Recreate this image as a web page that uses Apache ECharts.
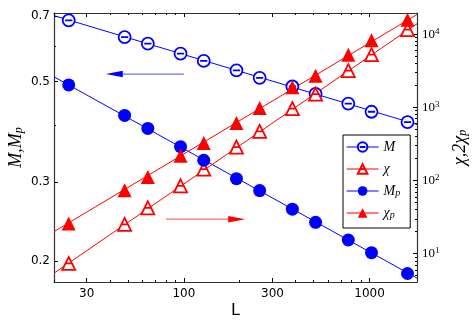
<!DOCTYPE html>
<html>
<head>
<meta charset="utf-8">
<script src="https://cdn.jsdelivr.net/npm/echarts@6/dist/echarts.min.js"></script>
<style>
  html, body { margin: 0; padding: 0; background: #fff; }
  #chart { width: 474px; height: 322px; }
</style>
</head>
<body>
<div id="chart"></div>
<script>
// system sizes
const L = [24, 48, 64, 96, 128, 192, 256, 384, 512, 768, 1024, 1600];
// left axis
const M  = [0.684, 0.628, 0.607, 0.577, 0.556, 0.530, 0.510, 0.488, 0.470, 0.447, 0.429, 0.407];
const Mp = [0.492, 0.421, 0.394, 0.359, 0.335, 0.305, 0.287, 0.261, 0.244, 0.223, 0.209, 0.188];
// right axis (chi and 2*chi_p)
const chi  = [7.35, 25.1, 42.3, 84.6, 143, 286, 470, 963, 1520, 3170, 5250, 11530];
const chip = [25.9, 73.9, 112, 218, 325, 610, 978, 1878, 2705, 5250, 8260, 15780];

// fitted power-law lines, read at both ends of the L range
const fitL   = [20, 1800];
const fitM   = [0.7006, 0.402];
const fitMp  = [0.5127, 0.1836];
const fitChi = [5.41, 13920];
const fitChip = [20.0, 18600];

// arrows (left-axis coordinates)
const arrowBlueL = [100, 38];
const arrowBlueY = 0.52;
const arrowRedL = [80, 214];
const arrowRedY = 0.248;

// ticks
const xMajor = [30, 100, 300, 1000];
const xMinor = [20, 40, 50, 60, 70, 80, 90, 200, 400, 500, 600, 700, 800, 900];
const yLeftMajor = [0.2, 0.3, 0.5, 0.7];
const yLeftMinor = [0.4, 0.6];
const yRightMajor = [10, 100, 1000, 10000];
const yRightMinor = [5, 6, 7, 8, 9, 20, 30, 40, 50, 60, 70, 80, 90,
  200, 300, 400, 500, 600, 700, 800, 900, 2000, 3000, 4000, 5000, 6000, 7000, 8000, 9000];

const BLUE = '#0000ff';
const RED = '#ff0000';
const SPINE = '#333';
const serif = 'Liberation Serif';

const openCircle = 'path://M10,0A10,10,0,1,1,-10,0A10,10,0,1,1,10,0ZM-6,0L6,0';
const openTri = 'path://M0,-10L10,10L-10,10ZM-5,0L5,0';

const pts = (xs, ys) => xs.map((x, i) => [x, ys[i]]);

const xAx = (pos, ticks, len, extra) => Object.assign({
  type: 'log', logBase: 10, min: 20, max: 1800, position: pos,
  axisLine: { show: true, lineStyle: { color: SPINE, width: 1.2 } },
  axisTick: { show: true, inside: true, length: len, customValues: ticks, lineStyle: { color: '#000' } },
  axisLabel: { show: false },
  splitLine: { show: false }
}, extra || {});

const yAx = (pos, min, max, ticks, len, extra) => Object.assign({
  type: 'log', logBase: 10, min: min, max: max, position: pos,
  axisLine: { show: true, lineStyle: { color: SPINE, width: 1.2 } },
  axisTick: { show: true, inside: true, length: len, customValues: ticks, lineStyle: { color: '#000' } },
  axisLabel: { show: false },
  splitLine: { show: false }
}, extra || {});

const subRich = {
  i: { fontFamily: serif, fontStyle: 'italic', fontSize: 18, color: '#000' },
  s: { fontFamily: serif, fontStyle: 'italic', fontSize: 12, color: '#000', verticalAlign: 'bottom', padding: [6, 0, 0, 0] }
};

const option = {
  animation: false,
  grid: { left: 54, right: 57, top: 13, bottom: 40, containLabel: false, outerBoundsMode: 'none' },
  xAxis: [
    xAx('bottom', xMajor, 4, {
      axisLabel: { show: true, customValues: xMajor, margin: 6, color: '#000',
        fontFamily: 'DejaVu Sans', fontSize: 12, formatter: v => String(Math.round(v)) },
      name: 'L', nameLocation: 'middle', nameGap: 21, nameMoveOverlap: false,
      nameTextStyle: { fontFamily: 'DejaVu Sans', fontSize: 16, color: '#000' }
    }),
    xAx('top', xMajor, 4),
    xAx('top', xMinor, 2, { axisLine: { show: false } }),
    xAx('bottom', xMinor, 2, { axisLine: { show: false } })
  ],
  yAxis: [
    yAx('left', 0.18, 0.71, yLeftMajor, 4, {
      axisLabel: { show: true, customValues: yLeftMajor, margin: 4, color: '#000',
        fontFamily: 'DejaVu Sans', fontSize: 12, formatter: v => v.toFixed(1) },
      name: '{i|M,M}{s|p}', nameLocation: 'middle', nameRotate: 90, nameGap: 29, nameMoveOverlap: false,
      nameTextStyle: { rich: subRich }
    }),
    yAx('right', 4.1, 19500, yRightMajor, 4, {
      axisLabel: { show: true, customValues: yRightMajor, margin: 5,
        formatter: v => '{b|10}{e|' + Math.round(Math.log10(v)) + '}',
        rich: {
          b: { fontFamily: serif, fontSize: 13, color: '#000' },
          e: { fontFamily: serif, fontSize: 9, color: '#000', verticalAlign: 'top', padding: [0, 0, 6, 0] }
        } },
      name: '{i|χ,2χ}{s|p}', nameLocation: 'middle', nameRotate: 90, nameGap: 34, nameMoveOverlap: false,
      nameTextStyle: { rich: subRich }
    }),
    yAx('left', 0.18, 0.71, yLeftMinor, 2, { axisLine: { show: false } }),
    yAx('right', 4.1, 19500, yRightMinor, 2, { axisLine: { show: false } })
  ],
  legend: {
    data: ['M', 'χ', 'M_p', 'χ_p'],
    orient: 'vertical', left: 343, top: 135,
    itemWidth: 32, itemHeight: 12, itemGap: 8,
    padding: [5, 10, 8, 3],
    backgroundColor: '#fff', borderColor: '#000', borderWidth: 1, borderRadius: 0,
    lineStyle: { opacity: 1, width: 1.2 },
    formatter: n => n.indexOf('_') >= 0 ? '{i|' + n.split('_')[0] + '}{s|' + n.split('_')[1] + '}' : '{i|' + n + '}',
    textStyle: { rich: {
      i: { fontFamily: serif, fontStyle: 'italic', fontSize: 14, color: '#000' },
      s: { fontFamily: serif, fontStyle: 'italic', fontSize: 10, color: '#000', verticalAlign: 'bottom', padding: [4, 0, 0, 0] }
    } }
  },
  series: [
    { name: 'fitM', type: 'line', data: pts(fitL, fitM), xAxisIndex: 0, yAxisIndex: 0, symbol: 'none',
      lineStyle: { color: BLUE, width: 1 }, silent: true, z: 1 },
    { name: 'fitMp', type: 'line', data: pts(fitL, fitMp), xAxisIndex: 0, yAxisIndex: 0, symbol: 'none',
      lineStyle: { color: BLUE, width: 1 }, silent: true, z: 1 },
    { name: 'fitChi', type: 'line', data: pts(fitL, fitChi), xAxisIndex: 0, yAxisIndex: 1, symbol: 'none',
      lineStyle: { color: RED, width: 1 }, silent: true, z: 1 },
    { name: 'fitChip', type: 'line', data: pts(fitL, fitChip), xAxisIndex: 0, yAxisIndex: 1, symbol: 'none',
      lineStyle: { color: RED, width: 1 }, silent: true, z: 1 },

    { name: 'M', type: 'line', data: pts(L, M), xAxisIndex: 0, yAxisIndex: 0, color: BLUE,
      symbol: openCircle, symbolSize: 12, lineStyle: { opacity: 0, color: BLUE },
      itemStyle: { color: '#fff', borderColor: BLUE, borderWidth: 1.8 }, z: 3 },
    { name: 'χ', type: 'line', data: pts(L, chi), xAxisIndex: 0, yAxisIndex: 1, color: RED,
      symbol: openTri, symbolSize: 13, lineStyle: { opacity: 0, color: RED },
      itemStyle: { color: '#fff', borderColor: RED, borderWidth: 1.8 }, z: 3 },
    { name: 'M_p', type: 'line', data: pts(L, Mp), xAxisIndex: 0, yAxisIndex: 0, color: BLUE,
      symbol: 'circle', symbolSize: 13, lineStyle: { opacity: 0, color: BLUE },
      itemStyle: { color: BLUE }, z: 3 },
    { name: 'χ_p', type: 'line', data: pts(L, chip), xAxisIndex: 0, yAxisIndex: 1, color: RED,
      symbol: 'triangle', symbolSize: 14, lineStyle: { opacity: 0, color: RED },
      itemStyle: { color: RED }, z: 3 }
  ]
};

const chart = echarts.init(document.getElementById('chart'));
chart.setOption(option);

const arrow = (xs, y, lineColor, headColor) => {
  const a = chart.convertToPixel({ xAxisIndex: 0, yAxisIndex: 0 }, [xs[0], y]);
  const b = chart.convertToPixel({ xAxisIndex: 0, yAxisIndex: 0 }, [xs[1], y]);
  const dir = Math.sign(b[0] - a[0]);
  const hl = 17, hw = 3.3;
  return [
    { type: 'line', z: 5, shape: { x1: a[0], y1: a[1], x2: b[0] - dir * hl * 0.6, y2: b[1] },
      style: { stroke: lineColor, lineWidth: 1.2 } },
    { type: 'polygon', z: 5, shape: { points: [[b[0], b[1]], [b[0] - dir * hl, b[1] - hw], [b[0] - dir * hl, b[1] + hw]] },
      style: { fill: headColor } }
  ];
};

chart.setOption({
  graphic: [].concat(
    arrow(arrowBlueL, arrowBlueY, '#6b6bff', BLUE),
    arrow(arrowRedL, arrowRedY, '#ff6b6b', RED)
  )
});
</script>
</body>
</html>
